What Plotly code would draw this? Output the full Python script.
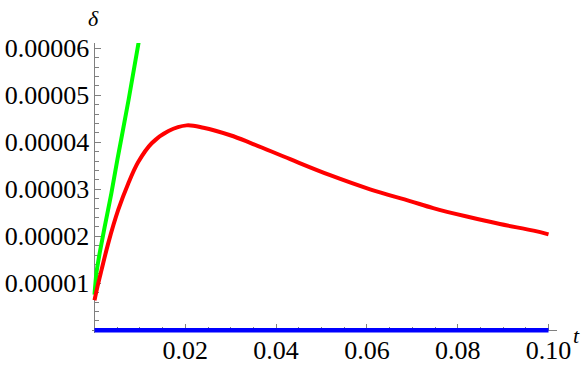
import plotly.graph_objects as go

# ---- data (delta values in units of 1e-5) ----
red_t = [0, 0.00066, 0.00154, 0.00302, 0.00522, 0.00742, 0.00963, 0.0126, 0.0163, 0.0203,
         0.0240, 0.0299, 0.0343, 0.0431, 0.0519, 0.0607, 0.0695, 0.0746, 0.0820, 0.0893, 0.0967, 0.1]
red_v = [0.64, 0.93, 1.28, 1.85, 2.56, 3.12, 3.58, 3.98, 4.24, 4.36,
         4.31, 4.15, 3.99, 3.64, 3.30, 3.00, 2.75, 2.60, 2.42, 2.26, 2.12, 2.04]

green_t = [0, 0.00041, 0.00114, 0.00224, 0.0037, 0.00502, 0.0075, 0.0098]
green_v = [0.76, 1.21, 1.64, 2.20, 2.91, 3.62, 4.90, 6.17]

blue_t = [0, 0.1]
blue_v = [0, 0]

x_ticks = [0.02, 0.04, 0.06, 0.08, 0.10]
x_labels = ["0.02", "0.04", "0.06", "0.08", "0.10"]
y_ticks = [0.00001, 0.00002, 0.00003, 0.00004, 0.00005, 0.00006]
y_labels = ["0.00001", "0.00002", "0.00003", "0.00004", "0.00005", "0.00006"]

SCALE = 1e-5
xr = [-0.00055, 0.10187]
yr = [-5.74e-7, 6.1128e-5]

fig = go.Figure()
fig.add_trace(go.Scatter(x=green_t, y=[v * SCALE for v in green_v], mode="lines",
                         line=dict(color="#00ff00", width=4, shape="spline", smoothing=0.6),
                         showlegend=False))
fig.add_trace(go.Scatter(x=red_t, y=[v * SCALE for v in red_v], mode="lines",
                         line=dict(color="#ff0000", width=4, shape="spline", smoothing=1.0),
                         showlegend=False))
fig.add_trace(go.Scatter(x=blue_t, y=blue_v, mode="lines",
                         line=dict(color="#0000ff", width=4.5), showlegend=False))

SERIF = '"Liberation Serif", "Times New Roman", Times, serif'
tickfont = dict(family=SERIF, size=26, color="black")
axcol = "#808080"

fig.update_layout(
    width=581, height=366,
    margin=dict(l=92, r=24, t=43, b=33),
    paper_bgcolor="white", plot_bgcolor="white",
    font=dict(family=SERIF),
    xaxis=dict(range=xr, anchor="free", position=(0 - yr[0]) / (yr[1] - yr[0]), automargin=False,
               showgrid=False, zeroline=False, showline=True, linecolor=axcol, linewidth=1,
               ticks="inside", ticklen=6, tickwidth=1, tickcolor=axcol,
               tickmode="array", tickvals=x_ticks, ticktext=x_labels, tickfont=tickfont,
               ticklabelstandoff=-4,
               minor=dict(dtick=0.005, tick0=0, ticks="inside", ticklen=3.5, tickcolor=axcol, tickwidth=1),
               layer="below traces"),
    yaxis=dict(range=yr, anchor="free", position=(0 - xr[0]) / (xr[1] - xr[0]), automargin=False,
               showgrid=False, zeroline=False, showline=True, linecolor=axcol, linewidth=1,
               ticks="inside", ticklen=6, tickwidth=1, tickcolor=axcol,
               tickmode="array", tickvals=y_ticks, ticktext=y_labels, tickfont=tickfont,
               minor=dict(dtick=0.000002, tick0=0, ticks="inside", ticklen=3.5, tickcolor=axcol, tickwidth=1),
               layer="below traces"),
    annotations=[
        dict(x=0.0043, y=1.0828, xref="paper", yref="paper", text="<i>δ</i>", showarrow=False,
             xanchor="center", yanchor="middle",
             font=dict(family=SERIF, size=22, color="black")),
        dict(x=1.0409, y=-0.010, xref="paper", yref="paper", text="<i>t</i>", showarrow=False,
             xanchor="center", yanchor="middle",
             font=dict(family=SERIF, size=22, color="black")),
    ],
)

fig.write_html("out.html", config={"displayModeBar": False},
               post_script="document.body.style.margin='0';")
